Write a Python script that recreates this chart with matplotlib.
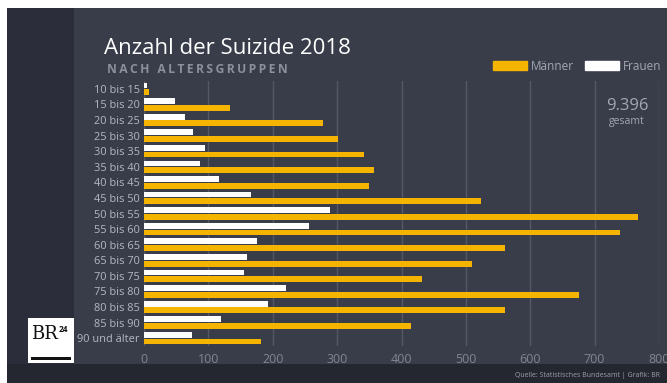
import matplotlib
matplotlib.use("Agg")
import matplotlib.pyplot as plt
from matplotlib.patches import Rectangle, Patch

plt.rcParams['font.family'] = ['Open Sans', 'DejaVu Sans']

# Daten
gruppen = ["10 bis 15", "15 bis 20", "20 bis 25", "25 bis 30", "30 bis 35",
           "35 bis 40", "40 bis 45", "45 bis 50", "50 bis 55", "55 bis 60",
           "60 bis 65", "65 bis 70", "70 bis 75", "75 bis 80", "80 bis 85",
           "85 bis 90", "90 und älter"]
maenner = [8, 134, 278, 302, 341, 358, 350, 524, 768, 740, 560, 510, 432, 676, 560, 414, 182]
frauen = [5, 48, 64, 76, 95, 87, 117, 166, 289, 257, 176, 160, 156, 221, 193, 120, 75]
xticks = [0, 100, 200, 300, 400, 500, 600, 700, 800]

gelb = "#f5b400"
panel = "#393d4a"
dunkel = "#2b2e3a"
unten = "#24272f"
grau = "#b4b8c2"

W, H = 667, 383
fig = plt.figure(figsize=(W / 100, H / 100), dpi=100, facecolor="white")

# Hintergrund in Pixelkoordinaten
bg = fig.add_axes([0, 0, 1, 1])
bg.set_xlim(0, W)
bg.set_ylim(H, 0)
bg.axis("off")
bg.add_patch(Rectangle((7, 8), W - 7, H - 8, color=panel, lw=0))
bg.add_patch(Rectangle((7, 8), 67, H - 8, color=dunkel, lw=0))
bg.add_patch(Rectangle((7, 364), W - 7, H - 364, color=unten, lw=0))

# BR24 logo
bg.add_patch(Rectangle((28, 318), 46, 45, color="white", lw=0))
bg.add_patch(Rectangle((31, 357), 40, 3, color="#111111", lw=0))
bg.text(31, 339, "BR", color="#111111", fontsize=13, ha="left", va="baseline",
        family=["DejaVu Serif"])
bg.text(59, 332, "24", color="#111111", fontsize=6, fontweight="bold", ha="left", va="baseline")

# Titel
bg.text(104, 54, "Anzahl der Suizide 2018", color="white", fontsize=16, ha="left", va="baseline")
bg.text(107, 73, "\u2009".join("NACH ALTERSGRUPPEN"), color="#8b909b", fontsize=8.7,
        fontweight="bold", ha="left", va="baseline")

# gesamt
bg.text(627, 110, "9.396", color="#a3a7b1", fontsize=12, ha="center", va="baseline")
bg.text(627, 124, "gesamt", color="#a3a7b1", fontsize=7.5, ha="center", va="baseline")

# Quelle
bg.text(660, 377, "Quelle: Statistisches Bundesamt | Grafik: BR", color="#9a9ea8",
        fontsize=5, ha="right", va="baseline")

# Diagramm
ax = fig.add_axes([144 / W, 1 - 346 / H, (659 - 144) / W, (346 - 81) / H])
ax.patch.set_alpha(0)
y = list(range(len(gruppen)))
ax.barh([i - 0.215 for i in y], frauen, height=0.37, color="white", zorder=3)
ax.barh([i + 0.215 for i in y], maenner, height=0.37, color=gelb, zorder=3)
ax.set_ylim(len(gruppen) - 0.5, -0.5)
ax.set_xlim(0, 800)
ax.set_yticks(y)
ax.set_yticklabels(gruppen, color=grau, fontsize=7.9)
ax.set_xticks(xticks)
ax.set_xticklabels([str(v) for v in xticks], color="#80858f", fontsize=9)
ax.tick_params(length=0, pad=3)
ax.tick_params(axis="x", pad=5)
for s in ax.spines.values():
    s.set_visible(False)
ax.grid(axis="x", color="#545865", lw=1, zorder=0)

handles = [Patch(color=gelb), Patch(color="white")]
leg = fig.legend(handles, ["Männer", "Frauen"], loc="center right", ncol=2,
                 bbox_to_anchor=(661 / W, 1 - 66 / H), frameon=False, fontsize=8.5,
                 handlelength=2.9, handleheight=0.7, handletextpad=0.3, columnspacing=0.9,
                 borderpad=0, borderaxespad=0)
for t in leg.get_texts():
    t.set_color("#a3a7b1")

fig.savefig("out.png", dpi=100, facecolor="white")
